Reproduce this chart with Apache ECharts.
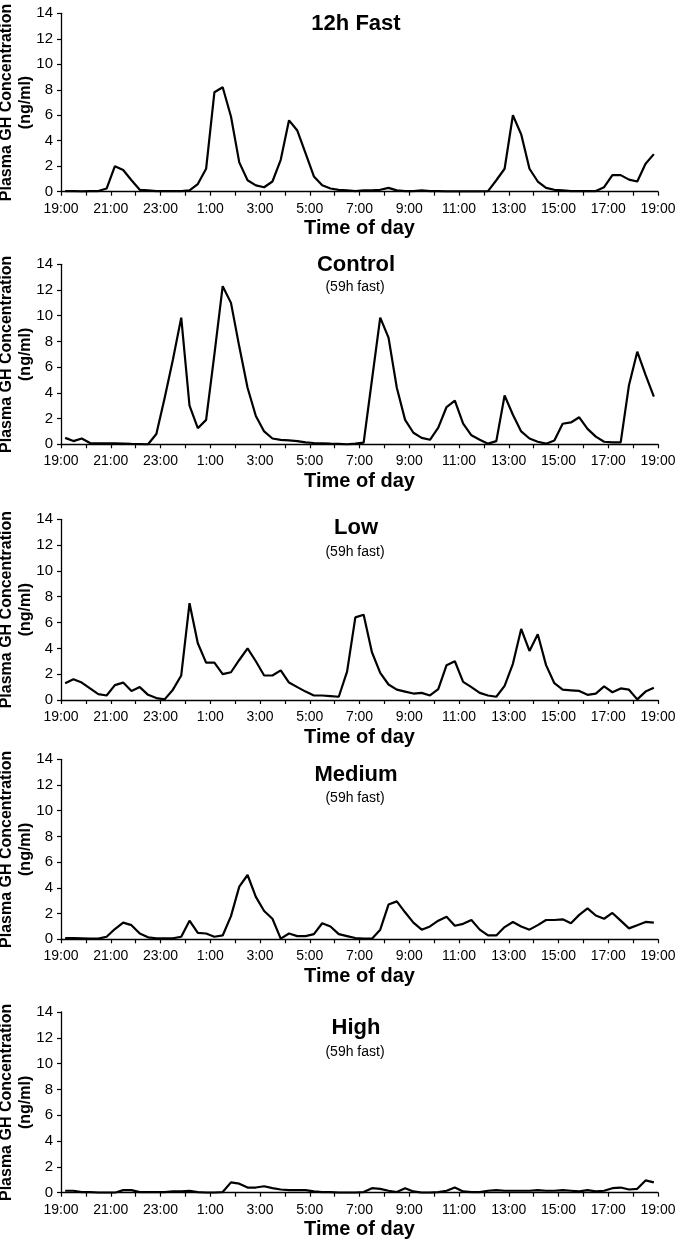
<!DOCTYPE html>
<html>
<head>
<meta charset="utf-8">
<script src="https://cdn.jsdelivr.net/npm/echarts@6/dist/echarts.min.js"></script>
<style>
html,body{margin:0;padding:0;background:#fff;}
#chart{width:680px;height:1241px;}
</style>
</head>
<body>
<div id="chart"></div>
<script>
// Sampling schedule: one sample every 20 min, plotted mid-interval (minutes after 19:00)
const sampleMinutes = Array.from({length: 72}, (_, i) => 10 + 20 * i);

// x tick labels (every 2 h, starting 19:00)
const hourLabels = ['19:00','21:00','23:00','1:00','3:00','5:00','7:00','9:00','11:00','13:00','15:00','17:00','19:00'];

const panelTitles = ['12h Fast', 'Control', 'Low', 'Medium', 'High'];
const panelSubtitles = ['', '(59h fast)', '(59h fast)', '(59h fast)', '(59h fast)'];
const yAxisTitle = 'Plasma GH Concentration\n(ng/ml)';
const xAxisTitle = 'Time of day';

const fast12h = [
  0.05,0.05,0.03,0.05,0.05,0.25,2.0,1.7,0.9,0.15,0.1,0.05,
  0.05,0.05,0.05,0.1,0.6,1.8,7.8,8.2,5.9,2.3,0.9,0.5,
  0.35,0.8,2.5,5.6,4.8,3.0,1.2,0.5,0.25,0.15,0.1,0.05,
  0.1,0.1,0.15,0.3,0.1,0.05,0.05,0.1,0.05,0.05,0.03,0.02,
  0.02,0.02,0.02,0.05,0.9,1.8,6.0,4.5,1.8,0.8,0.3,0.15,
  0.1,0.05,0.05,0.05,0.05,0.35,1.3,1.3,0.95,0.8,2.2,2.95
];
const control = [
  0.5,0.25,0.45,0.1,0.08,0.08,0.07,0.05,0.03,0.02,0.0,0.8,
  3.6,6.6,9.85,3.0,1.25,1.9,7.0,12.3,11.0,7.6,4.4,2.2,
  1.0,0.45,0.35,0.3,0.25,0.15,0.1,0.08,0.05,0.03,0.0,0.05,
  0.13,5.0,9.85,8.3,4.4,1.9,0.9,0.5,0.35,1.3,2.9,3.4,
  1.6,0.7,0.35,0.05,0.25,3.8,2.3,1.0,0.45,0.2,0.05,0.3,
  1.6,1.7,2.1,1.2,0.6,0.2,0.15,0.15,4.6,7.2,5.4,3.7
];
const low = [
  1.3,1.6,1.35,0.9,0.45,0.35,1.15,1.35,0.7,1.0,0.4,0.15,
  0.05,0.8,1.9,7.5,4.4,2.9,2.9,2.0,2.15,3.1,4.0,3.0,
  1.9,1.9,2.3,1.35,1.0,0.65,0.35,0.35,0.3,0.25,2.2,6.4,
  6.6,3.7,2.1,1.2,0.8,0.65,0.5,0.55,0.35,0.85,2.7,3.0,
  1.4,1.0,0.55,0.35,0.25,1.1,2.8,5.5,3.8,5.1,2.7,1.3,
  0.8,0.75,0.7,0.4,0.5,1.05,0.6,0.9,0.8,0.05,0.65,0.95
];
const medium = [
  0.1,0.1,0.08,0.05,0.05,0.2,0.8,1.3,1.1,0.45,0.15,0.08,
  0.08,0.08,0.2,1.45,0.5,0.45,0.2,0.3,1.8,4.1,5.0,3.3,
  2.2,1.6,0.05,0.45,0.25,0.25,0.4,1.25,1.0,0.4,0.25,0.1,
  0.05,0.05,0.75,2.7,2.95,2.1,1.3,0.75,1.0,1.45,1.75,1.05,
  1.2,1.5,0.75,0.3,0.3,0.95,1.35,1.0,0.75,1.1,1.5,1.5,
  1.55,1.25,1.9,2.4,1.85,1.6,2.05,1.45,0.85,1.1,1.35,1.3
];
const high = [
  0.15,0.15,0.05,0.05,0.0,0.0,0.0,0.2,0.2,0.05,0.05,0.05,
  0.05,0.1,0.1,0.15,0.05,0.0,0.0,0.05,0.8,0.7,0.4,0.4,
  0.5,0.35,0.25,0.2,0.2,0.2,0.1,0.05,0.05,0.0,0.0,0.0,
  0.05,0.35,0.3,0.15,0.05,0.35,0.1,0.0,0.0,0.05,0.15,0.4,
  0.1,0.05,0.05,0.15,0.2,0.15,0.15,0.15,0.15,0.2,0.15,0.15,
  0.2,0.15,0.1,0.2,0.1,0.15,0.35,0.4,0.25,0.3,0.95,0.8
];
const allSeries = [fast12h, control, low, medium, high];

// layout
const gridTops = [13.3, 264.3, 519.3, 759.3, 1012];
const gridHeights = [178.4, 180, 180.7, 180, 180.7];
const titleY = [24, 265, 528, 775, 1028];
const subY = [0, 287.5, 552, 798, 1052];
const FONT = '"Liberation Sans", Arial, sans-serif';

const grids = [], xAxes = [], yAxes = [], series = [], titles = [], graphics = [];
allSeries.forEach((vals, k) => {
  grids.push({left: 61, width: 597, top: gridTops[k], height: gridHeights[k]});
  xAxes.push({
    type: 'value', gridIndex: k, min: 0, max: 24, interval: 1,
    name: xAxisTitle, nameLocation: 'middle', nameGap: 27,
    nameTextStyle: {fontFamily: FONT, fontSize: 20, fontWeight: 'bold', color: '#000'},
    axisLine: {show: true, onZero: false, lineStyle: {color: '#000', width: 1.3}},
    axisTick: {show: true, length: 4, lineStyle: {color: '#000', width: 1.2}},
    axisLabel: {
      show: true, margin: 10, color: '#000', fontFamily: FONT, fontSize: 14,
      formatter: v => (Math.round(v) % 2 === 0 ? hourLabels[Math.round(v) / 2] : '')
    },
    splitLine: {show: false}
  });
  yAxes.push({
    type: 'value', gridIndex: k, min: 0, max: 14, interval: 2,
    axisLine: {show: true, lineStyle: {color: '#000', width: 1.3}},
    axisTick: {show: true, length: 4, lineStyle: {color: '#000', width: 1.2}},
    axisLabel: {show: true, margin: 8, color: '#000', fontFamily: FONT, fontSize: 15},
    splitLine: {show: false}
  });
  series.push({
    type: 'line', xAxisIndex: k, yAxisIndex: k, name: panelTitles[k],
    data: vals.map((v, i) => [sampleMinutes[i] / 60, v]),
    showSymbol: false, symbol: 'none', smooth: false, animation: false,
    lineStyle: {color: '#000', width: 2.2}, itemStyle: {color: '#000'}
  });
  graphics.push({
    type: 'text', x: 16, y: gridTops[k] + gridHeights[k] / 2, rotation: Math.PI / 2,
    style: {
      text: yAxisTitle, fill: '#000', align: 'center', verticalAlign: 'middle',
      font: 'bold 16px ' + FONT, lineHeight: 19
    }
  });
  titles.push({
    text: panelTitles[k], left: 356, top: titleY[k], padding: 0,
    textAlign: 'center', textVerticalAlign: 'middle',
    textStyle: {fontFamily: FONT, fontSize: 22, fontWeight: 'bold', color: '#000'}
  });
  if (panelSubtitles[k]) {
    titles.push({
      text: panelSubtitles[k], left: 355, top: subY[k], padding: 0,
      textAlign: 'center', textVerticalAlign: 'middle',
      textStyle: {fontFamily: FONT, fontSize: 14, fontWeight: 'normal', color: '#000'}
    });
  }
});

const chart = echarts.init(document.getElementById('chart'), null, {renderer: 'canvas'});
chart.setOption({
  animation: false,
  backgroundColor: '#fff',
  title: titles,
  grid: grids,
  xAxis: xAxes,
  yAxis: yAxes,
  series: series,
  graphic: graphics
});
</script>
</body>
</html>
